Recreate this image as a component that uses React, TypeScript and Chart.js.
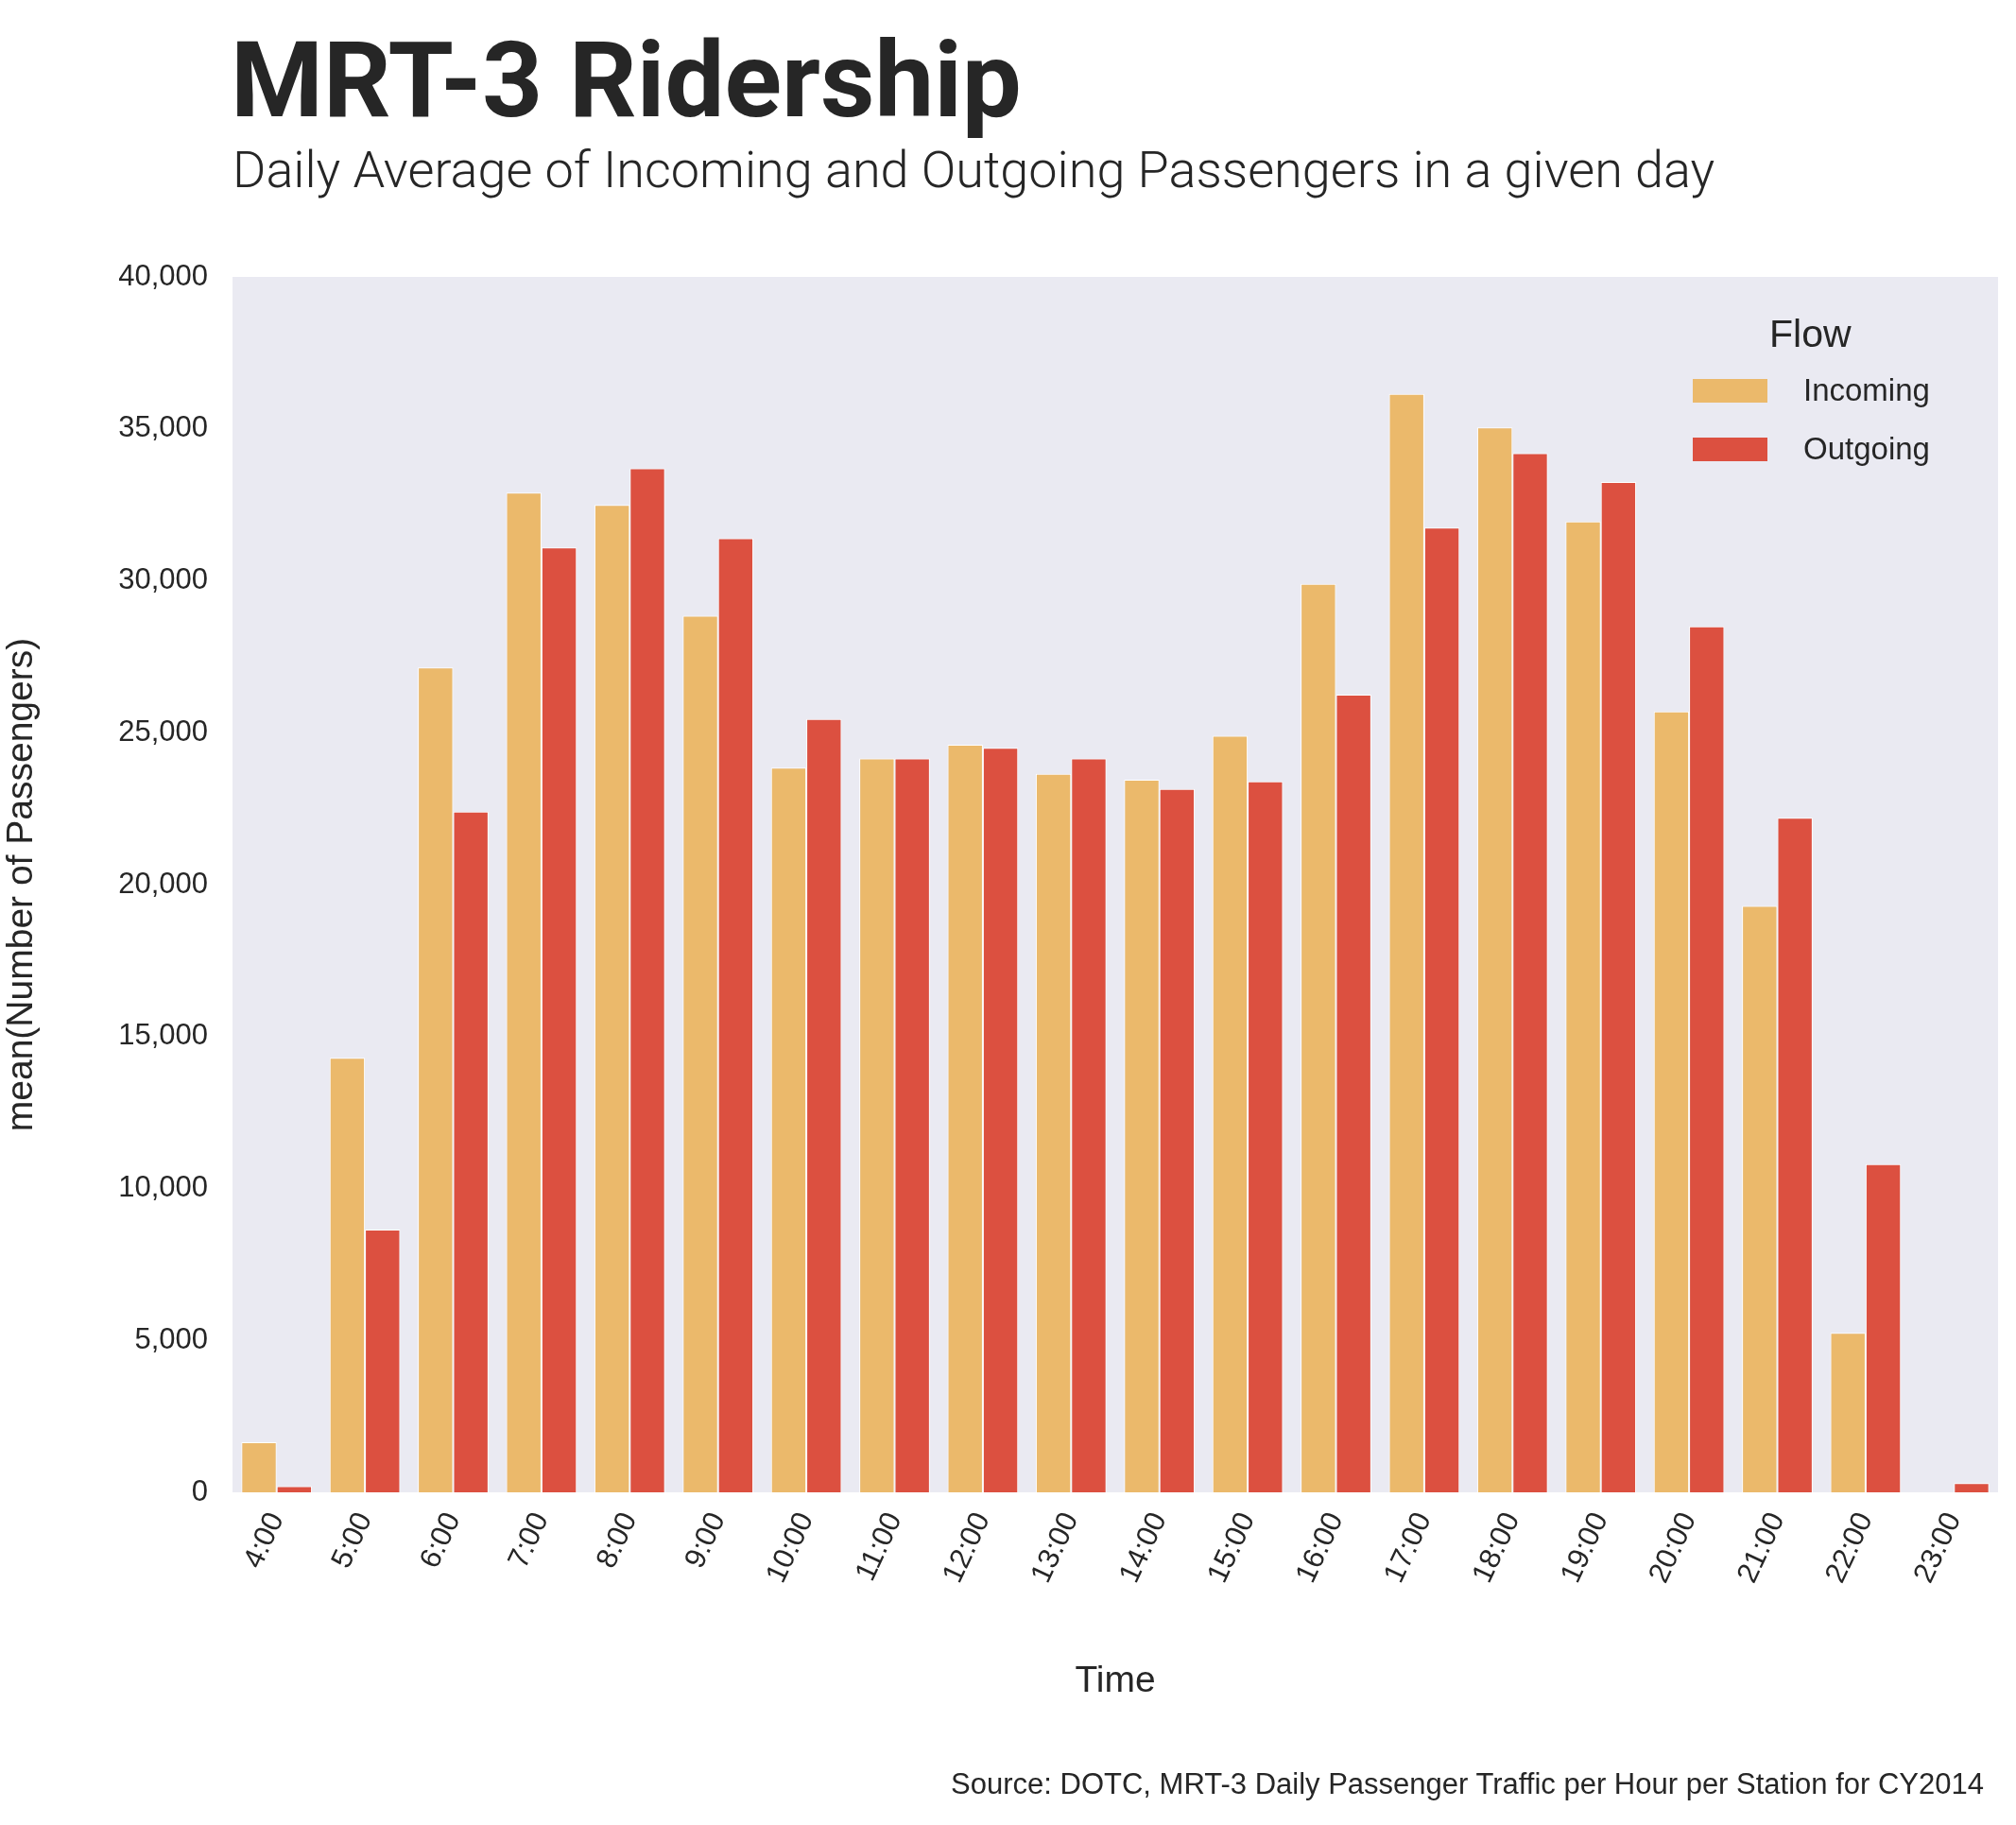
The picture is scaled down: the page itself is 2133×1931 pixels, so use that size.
import React, { useEffect, useRef } from "react";
import { Chart, registerables } from "chart.js";
Chart.register(...registerables);

const categories = ["4:00","5:00","6:00","7:00","8:00","9:00","10:00","11:00","12:00","13:00","14:00","15:00","16:00","17:00","18:00","19:00","20:00","21:00","22:00","23:00"];
const incoming = [1650,14300,27150,32900,32500,28850,23850,24150,24600,23650,23450,24900,29900,36150,35050,31950,25700,19300,5250,0];
const outgoing = [200,8650,22400,31100,33700,31400,25450,24150,24500,24150,23150,23400,26250,31750,34200,33250,28500,22200,10800,300];
const yTicks = [0,5000,10000,15000,20000,25000,30000,35000,40000];

const C_IN = "#ebb96b";
const C_OUT = "#dc5040";
const TXT = "#262626";

export default function App() {
  const ref = useRef<HTMLCanvasElement>(null);
  useEffect(() => {
    const ch = new Chart(ref.current!, {
      type: "bar",
      data: {
        labels: categories,
        datasets: [
          { label: "Incoming", data: incoming, backgroundColor: C_IN, borderColor: "#ffffff", borderWidth: 1, categoryPercentage: 0.8, barPercentage: 1 },
          { label: "Outgoing", data: outgoing, backgroundColor: C_OUT, borderColor: "#ffffff", borderWidth: 1, categoryPercentage: 0.8, barPercentage: 1 },
        ],
      },
      options: {
        animation: false,
        responsive: false,
        devicePixelRatio: 1,
        layout: { padding: { left: 0, right: 19, top: 293, bottom: 128 } },
        plugins: { legend: { display: false }, tooltip: { enabled: false } },
        scales: {
          x: {
            grid: { display: false },
            border: { display: false },
            ticks: { color: TXT, font: { family: "Liberation Sans, Arial", size: 31 }, minRotation: 65, maxRotation: 65, padding: 8 },
            title: { display: true, text: "Time", color: TXT, font: { family: "Liberation Sans, Arial", size: 39 }, padding: { top: 10, bottom: 0 } },
            afterFit: (s: any) => { s.height = 224; },
          },
          y: {
            min: 0, max: 40000,
            grid: { display: false },
            border: { display: false },
            afterBuildTicks: (s: any) => { s.ticks = yTicks.map((v) => ({ value: v })); },
            ticks: { color: TXT, font: { family: "Liberation Sans, Arial", size: 31 }, padding: 18 },
            title: { display: true, text: "mean(Number of Passengers)", color: TXT, font: { family: "Liberation Sans, Arial", size: 39 }, padding: 0 },
            afterFit: (s: any) => { s.width = 246; },
          },
        },
      },
      plugins: [{
        id: "bg",
        beforeDraw: (c: any) => {
          const a = c.chartArea; const ctx = c.ctx;
          ctx.save(); ctx.fillStyle = "#eaeaf2"; ctx.fillRect(a.left, a.top, a.right - a.left, a.bottom - a.top); ctx.restore();
        },
      }],
    });
    return () => ch.destroy();
  }, []);
  const lg = (color: string, text: string, top: number) => (
    <div style={{ position: "absolute", left: 1791, top, display: "flex", alignItems: "center" }}>
      <div style={{ width: 79, height: 25, background: color }} />
      <span style={{ marginLeft: 38, fontSize: 33, color: TXT, fontFamily: "Liberation Sans, Arial" }}>{text}</span>
    </div>
  );
  return (
    <div style={{ position: "absolute", left: 0, top: 0, width: 2133, height: 1931, background: "#fff", overflow: "hidden" }}>
      <canvas ref={ref} width={2133} height={1931} style={{ position: "absolute", left: 0, top: 0 }} />
      <div style={{ position: "absolute", left: 244, top: 18, fontFamily: "Roboto", fontWeight: 700, fontSize: 112, color: TXT, lineHeight: 1.2 }}>MRT-3 Ridership</div>
      <div style={{ position: "absolute", left: 246, top: 148, fontFamily: "Roboto", fontWeight: 300, fontSize: 54, color: TXT, lineHeight: 1.2 }}>Daily Average of Incoming and Outgoing Passengers in a given day</div>
      <div style={{ position: "absolute", left: 1872, top: 330, fontSize: 41, color: TXT, fontFamily: "Liberation Sans, Arial" }}>Flow</div>
      {lg(C_IN, "Incoming", 394)}
      {lg(C_OUT, "Outgoing", 456)}
      <div style={{ position: "absolute", right: 34, top: 1870, fontSize: 31, color: TXT, fontFamily: "Liberation Sans, Arial" }}>Source: DOTC, MRT-3 Daily Passenger Traffic per Hour per Station for CY2014</div>
    </div>
  );
}
